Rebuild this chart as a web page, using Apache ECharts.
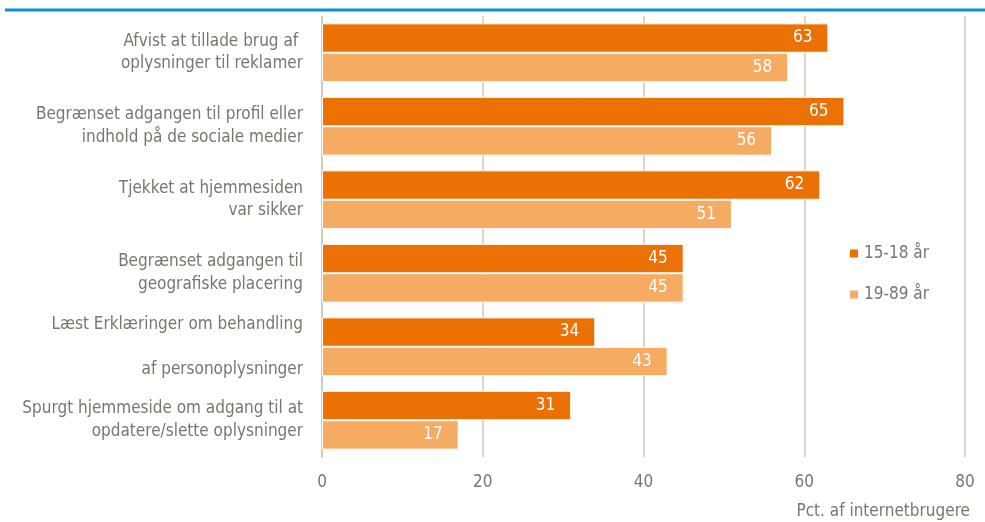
<!DOCTYPE html>
<html>
<head>
<meta charset="utf-8">
<script src="https://cdn.jsdelivr.net/npm/echarts@6/dist/echarts.min.js"></script>
<style>
  html, body { margin: 0; padding: 0; background: #fff; }
  #chart { width: 985px; height: 522px; }
</style>
</head>
<body>
<div id="chart"></div>
<script>
var categories = [
    'Afvist at tillade brug af \noplysninger til reklamer',
    'Begrænset adgangen til profil eller\nindhold på de sociale medier',
    'Tjekket at hjemmesiden\nvar sikker',
    'Begrænset adgangen til\ngeografiske placering',
    'Læst Erklæringer om behandling\n\naf personoplysninger',
    'Spurgt hjemmeside om adgang til at\nopdatere/slette oplysninger'
];
var young = [63, 65, 62, 45, 34, 31];
var adults = [58, 56, 51, 45, 43, 17];
var seriesNames = ['15-18 år', '19-89 år'];
var xTicks = [0, 20, 40, 60, 80];

var font = "'Liberation Sans Narrow', 'Arial Narrow', 'DejaVu Sans Condensed', sans-serif";
var textGray = '#77776a';

var myChart = echarts.init(document.getElementById('chart'));

var barLabel = {
    show: true,
    position: 'insideRight',
    distance: 16,
    color: '#fff',
    fontFamily: font,
    fontSize: 17
};

var option = {
    animation: false,
    grid: { left: 322, right: 20, top: 16, bottom: 65 },
    legend: {
        orient: 'vertical',
        left: 843,
        top: 240,
        icon: 'rect',
        itemWidth: 10,
        itemHeight: 10,
        itemGap: 24,
        textStyle: { color: textGray, fontFamily: font, fontSize: 17 },
        data: seriesNames
    },
    xAxis: {
        type: 'value',
        min: xTicks[0],
        max: xTicks[xTicks.length - 1],
        interval: 20,
        axisLine: { show: false },
        axisTick: { show: false },
        splitLine: { lineStyle: { color: '#c9c9bd', width: 1.5 } },
        axisLabel: { color: textGray, fontFamily: font, fontSize: 17, margin: 17 }
    },
    yAxis: {
        type: 'category',
        inverse: true,
        data: categories,
        axisLine: { lineStyle: { color: '#c9c9bd', width: 1.5 } },
        axisTick: { show: false },
        axisLabel: {
            color: textGray,
            fontFamily: font,
            fontSize: 17,
            lineHeight: 22.5,
            margin: 19,
            align: 'right'
        }
    },
    graphic: [
        {
            type: 'line',
            shape: { x1: 5, y1: 10, x2: 985, y2: 10 },
            style: { stroke: '#0a8fd6', lineWidth: 3 }
        },
        {
            type: 'text',
            right: 15,
            top: 503,
            style: { text: 'Pct. af internetbrugere', fill: textGray, font: '17px ' + font }
        }
    ],
    series: [
        {
            name: seriesNames[0],
            type: 'bar',
            data: young,
            barGap: '0%',
            barCategoryGap: '20%',
            itemStyle: { color: '#ec7105', borderColor: '#fff', borderWidth: 1 },
            label: barLabel
        },
        {
            name: seriesNames[1],
            type: 'bar',
            data: adults,
            itemStyle: { color: '#f6ab62', borderColor: '#fff', borderWidth: 1 },
            label: barLabel
        }
    ]
};

if (option && typeof option === "object") {
    myChart.setOption(option, true);
}
</script>
</body>
</html>
